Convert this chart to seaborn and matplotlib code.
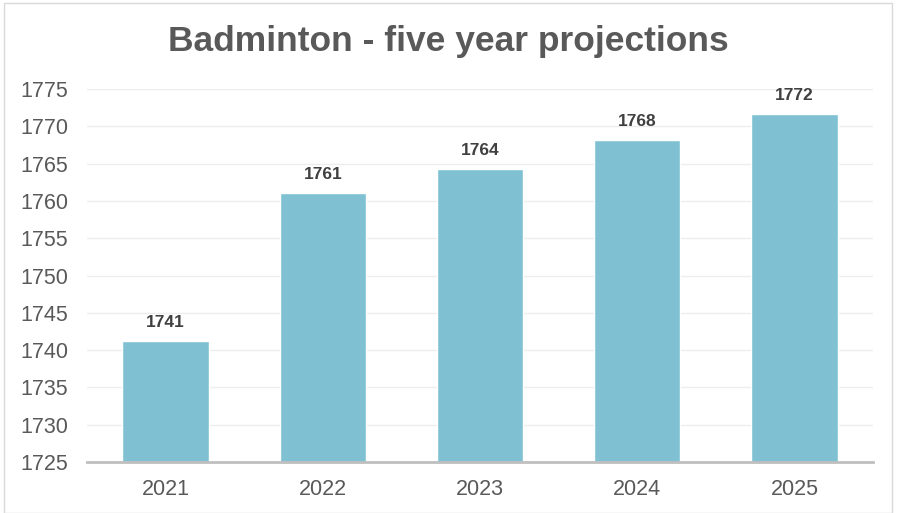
#!/usr/bin/env python3
"""
Badminton participation - five year projections bar chart.
"""

import pandas as pd
import matplotlib.pyplot as plt
import seaborn as sns
from matplotlib.patches import Rectangle

years = ["2021", "2022", "2023", "2024", "2025"]
values = [1741.2, 1761.1, 1764.3, 1768.2, 1771.65]
labels = ["1741", "1761", "1764", "1768", "1772"]
y_ticks = [1725, 1730, 1735, 1740, 1745, 1750, 1755, 1760, 1765, 1770, 1775]

df = pd.DataFrame({"Year": years, "Value": values})

sns.set_theme(style="white")
plt.rcParams["font.family"] = ["Liberation Sans", "DejaVu Sans"]

TEXT = "#595959"
BAR = "#7fc1d3"

fig = plt.figure(figsize=(8.97, 5.13), dpi=100)
ax = fig.add_axes([87 / 897, 1 - 462 / 513, (873 - 87) / 897, (462 - 89) / 513])

sns.barplot(x="Year", y="Value", data=df, color=BAR, saturation=1, width=0.55, ax=ax)

ax.set_ylim(1725, 1775)
ax.set_yticks(y_ticks)
ax.set_xlim(-0.5, len(years) - 0.5)
ax.grid(axis="y", color="#ededed", linewidth=1)
ax.set_axisbelow(True)
for s in ["top", "right", "left"]:
    ax.spines[s].set_visible(False)
ax.spines["bottom"].set_color("#bfbfbf")
ax.spines["bottom"].set_linewidth(2)
ax.tick_params(axis="both", length=0, labelsize=15.5, labelcolor=TEXT)
ax.tick_params(axis="y", pad=13.5)
ax.tick_params(axis="x", pad=12)
ax.set_xlabel("")
ax.set_ylabel("")

# Data labels above bars
for i, (v, lab) in enumerate(zip(values, labels)):
    ax.annotate(lab, (i, v), xytext=(0, 8), textcoords="offset points",
                ha="center", va="bottom", fontsize=12.5, fontweight="bold",
                color="#404040")

fig.text(0.5, 1 - 42 / 513, "Badminton - five year projections", ha="center",
         va="center", fontsize=25.5, fontweight="bold", color=TEXT)

# Chart border
fig.patches.append(Rectangle((4 / 897, 0), 888 / 897, 1 - 3 / 513, transform=fig.transFigure,
                             fill=False, edgecolor="#d9d9d9", linewidth=1))

plt.savefig("out.png", dpi=100)
plt.close()
